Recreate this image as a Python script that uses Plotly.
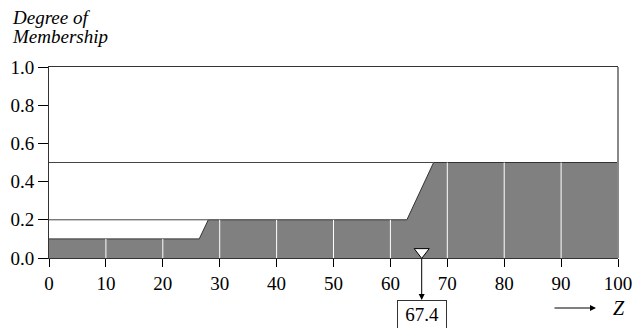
import numpy as np
import plotly.graph_objects as go

# Aggregated output membership (clipped) shape
mf_x = [0, 26.4, 28.0, 62.9, 67.6, 100]
mf_y = [0.1, 0.1, 0.2, 0.2, 0.5, 0.5]
# clip levels
clip_levels = [0.2, 0.5]
clip_ends = [28.0, 67.6]
# centroid marker position and label
centroid_x = 65.5
centroid_label = "67.4"
x_ticks = list(range(0, 101, 10))
y_ticks = [0.0, 0.2, 0.4, 0.6, 0.8, 1.0]
title_lines = ["Degree of", "Membership"]

W, H = 634, 328
ML, MR, MT, MB = 49, 16, 67, 70
PW, PH = W - ML - MR, H - MT - MB

def px_x(p):
    return (p - ML) / PW

def px_y(p):
    return (H - MB - p) / PH

FONT = "Liberation Serif, Times New Roman, serif"
fig = go.Figure()

fig.add_trace(go.Scatter(x=mf_x, y=mf_y, mode="lines", fill="tozeroy",
                         fillcolor="#808080", line=dict(color="#333333", width=1),
                         hoverinfo="skip", showlegend=False))

# white grid lines inside the filled area
gx, gy = [], []
for t in x_ticks[1:-1]:
    gx += [t, t, None]
    gy += [0, float(np.interp(t, mf_x, mf_y)), None]
fig.add_trace(go.Scatter(x=gx, y=gy, mode="lines", line=dict(color="white", width=1),
                         hoverinfo="skip", showlegend=False))

for lv, end in zip(clip_levels, clip_ends):
    fig.add_trace(go.Scatter(x=[0, end], y=[lv, lv], mode="lines",
                             line=dict(color="#444444", width=1),
                             hoverinfo="skip", showlegend=False))

fig.add_trace(go.Scatter(x=[centroid_x], y=[0.032], mode="markers",
                         marker=dict(symbol="triangle-down", size=13, color="white",
                                     line=dict(color="black", width=1)),
                         cliponaxis=False, hoverinfo="skip", showlegend=False))

fig.update_layout(
    width=W, height=H, margin=dict(l=ML, r=MR, t=MT, b=MB, autoexpand=False),
    plot_bgcolor="white", paper_bgcolor="white",
    font=dict(family=FONT, size=19, color="black"),
    xaxis=dict(range=[0, 100], tickvals=x_ticks, ticks="outside", ticklen=8,
               tickcolor="black", showgrid=False, zeroline=False, showline=True,
               linecolor="#333333", linewidth=1, mirror=True, automargin=False,
               tickfont=dict(family=FONT, size=19)),
    yaxis=dict(range=[0, 1], tickvals=y_ticks, ticktext=[f"{v:.1f}" for v in y_ticks],
               ticks="outside", ticklen=10, tickcolor="black", showgrid=False,
               zeroline=False, showline=True, linecolor="#333333", linewidth=1,
               automargin=False, tickfont=dict(family=FONT, size=19)),
)

# right border (gray)
fig.add_shape(type="line", xref="paper", yref="paper", x0=1, x1=1, y0=0, y1=1,
              line=dict(color="#888888", width=2))

# y title (two lines, tight spacing)
for i, line in enumerate(title_lines):
    fig.add_annotation(xref="paper", yref="paper", x=px_x(10), y=px_y(17 + 20 * i),
                       xanchor="left", yanchor="middle", showarrow=False,
                       text=f"<i>{line}</i>", font=dict(family=FONT, size=19))

# centroid box
fig.add_annotation(xref="x", yref="paper", x=centroid_x, y=px_y(300), xanchor="center",
                   yanchor="top", showarrow=False, text=centroid_label,
                   font=dict(family=FONT, size=19), bordercolor="#333333", borderwidth=1,
                   borderpad=3, width=42, height=30, valign="top", bgcolor="white")
# arrow from axis to box
fig.add_annotation(xref="x", yref="paper", x=centroid_x, y=px_y(300), ax=0, ay=-43,
                   text="", showarrow=True, arrowhead=2, arrowsize=1.2, arrowwidth=1,
                   arrowcolor="black", standoff=0)

# Z arrow
fig.add_annotation(xref="paper", yref="paper", x=px_x(596), y=px_y(308), ax=-43, ay=0,
                   text="", showarrow=True, arrowhead=2, arrowsize=1.2, arrowwidth=1,
                   arrowcolor="black", standoff=0)
fig.add_annotation(xref="paper", yref="paper", x=px_x(619), y=px_y(308), showarrow=False,
                   xanchor="center", yanchor="middle",
                   text="<i>Z</i>", font=dict(family=FONT, size=20))

fig.write_html("out.html")
